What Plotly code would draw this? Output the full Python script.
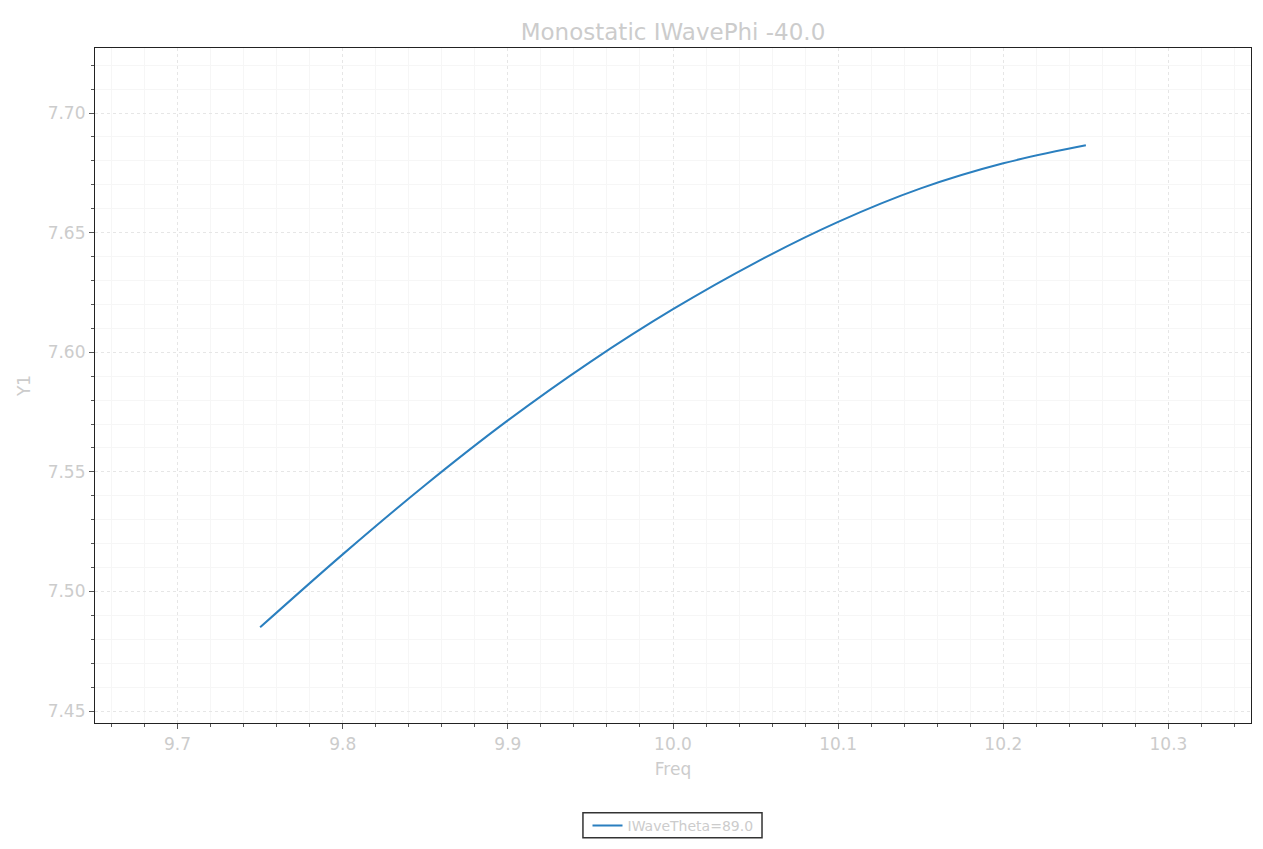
import plotly.graph_objects as go

freq = [9.75, 9.80, 9.85, 9.90, 9.95, 10.00, 10.05, 10.10, 10.15, 10.20, 10.25]
y1 = [7.485, 7.5155, 7.5445, 7.5715, 7.596, 7.618, 7.6375, 7.6545, 7.6685, 7.679, 7.6865]
series_name = "IWaveTheta=89.0"
title_text = "Monostatic IWavePhi -40.0"

txt = "#cccccc"
fnt = "DejaVu Sans, Liberation Sans, sans-serif"

fig = go.Figure()
fig.add_trace(go.Scatter(x=freq, y=y1, mode="lines", name=series_name,
                         line=dict(color="#2a7fbf", width=2, shape="spline", smoothing=1.0)))

axis_common = dict(
    showline=True, linecolor="#222222", linewidth=1.2, mirror=True,
    ticks="outside", ticklen=5, tickcolor="#555555", tickwidth=1,
    showgrid=True, gridcolor="#e6e6e6", gridwidth=1, griddash="dot",
    zeroline=False,
    tickfont=dict(size=17, color=txt, family=fnt),
)

fig.update_layout(
    width=1247, height=833,
    paper_bgcolor="white", plot_bgcolor="white",
    font=dict(family=fnt, color=txt),
    title=dict(text=title_text, x=0.5, xref="paper", xanchor="center", y=0.9712, yanchor="middle",
               font=dict(size=23, color=txt, family=fnt)),
    margin=dict(l=87, r=4, t=40, b=118),
    showlegend=True,
    legend=dict(orientation="h", x=0.5, xanchor="center", xref="paper",
                y=0.018, yanchor="middle", yref="container",
                borderwidth=0, bgcolor="rgba(0,0,0,0)",
                font=dict(size=14, color=txt, family=fnt)),
    xaxis=dict(range=[9.65, 10.35], dtick=0.1, tickformat=".1f",
               title=dict(text="Freq", font=dict(size=17, color=txt, family=fnt), standoff=10),
               minor=dict(dtick=0.02, ticks="outside", ticklen=3, tickcolor="#555555",
                          showgrid=True, gridcolor="#f6f6f6", griddash="solid"),
               **axis_common),
    yaxis=dict(range=[7.445, 7.7272], dtick=0.05, tickformat=".2f",
               title=dict(text="Y1", font=dict(size=17, color=txt, family=fnt), standoff=12),
               minor=dict(dtick=0.01, ticks="outside", ticklen=3, tickcolor="#555555",
                          showgrid=True, gridcolor="#f6f6f6", griddash="solid"),
               **axis_common),
)

# legend frame (drawn as a shape so it can be as compact as the reference)
fig.add_shape(type="rect", xref="paper", yref="paper",
              x0=0.4221, x1=0.5770, y0=-0.1701, y1=-0.1331,
              line=dict(color="#333333", width=1.5), fillcolor="rgba(0,0,0,0)", layer="above")

fig.write_html("out.html")
